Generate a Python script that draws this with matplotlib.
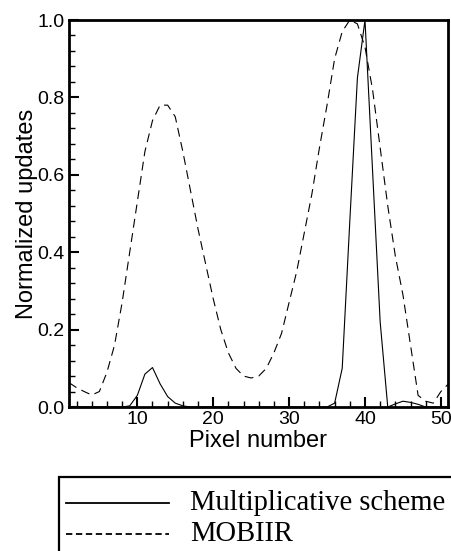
import matplotlib
matplotlib.use("Agg")
import matplotlib.pyplot as plt
from matplotlib.lines import Line2D
from matplotlib.patches import Rectangle
from matplotlib.ticker import MultipleLocator
import numpy as np

pixels = np.arange(1, 52)

multiplicative = [
    0.0, 0.0, 0.0, 0.0, 0.0, 0.0, 0.0, 0.0, 0.003, 0.03,
    0.085, 0.102, 0.06, 0.027, 0.01, 0.003, 0.0, 0.0, 0.0, 0.0,
    0.0, 0.0, 0.0, 0.0, 0.0, 0.0, 0.0, 0.0, 0.0, 0.0,
    0.0, 0.0, 0.0, 0.0, 0.0, 0.01, 0.1, 0.48, 0.85, 1.0,
    0.61, 0.22, 0.0, 0.008, 0.015, 0.012, 0.007, 0.0, 0.0, 0.0,
    0.0,
]
mobiir = [
    0.063, 0.05, 0.04, 0.031, 0.04, 0.09, 0.16, 0.27, 0.4, 0.53,
    0.66, 0.74, 0.78, 0.78, 0.75, 0.66, 0.56, 0.46, 0.37, 0.28,
    0.2, 0.14, 0.1, 0.08, 0.075, 0.08, 0.1, 0.14, 0.19, 0.27,
    0.35, 0.45, 0.55, 0.67, 0.78, 0.9, 0.97, 1.0, 0.99, 0.93,
    0.82, 0.67, 0.52, 0.39, 0.29, 0.16, 0.03, 0.015, 0.01, 0.04,
    0.06,
]

x_label = "Pixel number"
y_label = "Normalized updates"
legend_labels = ["Multiplicative scheme", "MOBIIR"]

sans = ["Liberation Sans", "DejaVu Sans"]
serif = ["Liberation Serif", "DejaVu Serif"]

fig = plt.figure(figsize=(4.51, 5.51), dpi=100)
ax = fig.add_axes([0.153, 0.2613, 0.8397, 0.7024])

ax.plot(pixels, multiplicative, color="black", lw=0.8)
(dash_line,) = ax.plot(pixels, mobiir, color="black", lw=0.8)
dash_line.set_dashes([8, 5])

ax.set_xlim(1, 50.9)
ax.set_ylim(0, 1.0)
ax.xaxis.set_major_locator(MultipleLocator(10))
ax.xaxis.set_minor_locator(MultipleLocator(2))
ax.yaxis.set_major_locator(MultipleLocator(0.2))
ax.yaxis.set_minor_locator(MultipleLocator(0.04))
ax.yaxis.set_major_formatter(plt.FuncFormatter(lambda v, p: f"{v:.1f}"))

ax.tick_params(which="major", direction="in", length=7, width=1.5,
               labelsize=14, pad=3)
ax.tick_params(which="minor", direction="in", length=4, width=1.0)
for lab in ax.get_xticklabels() + ax.get_yticklabels():
    lab.set_family(sans)
for sp in ax.spines.values():
    sp.set_linewidth(2.0)

ax.set_xlabel(x_label, fontsize=17, family=sans, labelpad=1)
ax.set_ylabel(y_label, fontsize=17, family=sans, labelpad=0)

# legend box below the plot, running off the bottom right of the figure
fig.patches.append(Rectangle((0.1308, -0.2), 1.0, 0.3348, transform=fig.transFigure,
                             fill=False, lw=1.6, edgecolor="black"))
fig.lines.append(Line2D([0.146, 0.375], [0.0877, 0.0877], transform=fig.transFigure,
                        color="black", lw=1.3))
leg_dash = Line2D([0.146, 0.375], [0.0309, 0.0309], transform=fig.transFigure,
                  color="black", lw=1.3)
leg_dash.set_dashes([3.5, 2])
fig.lines.append(leg_dash)
fig.text(0.4213, 0.0877, legend_labels[0], family=serif, fontsize=20.6,
         va="center", ha="left")
fig.text(0.4213, 0.0309, legend_labels[1], family=serif, fontsize=20.6,
         va="center", ha="left")

fig.savefig("out.png", dpi=100)
